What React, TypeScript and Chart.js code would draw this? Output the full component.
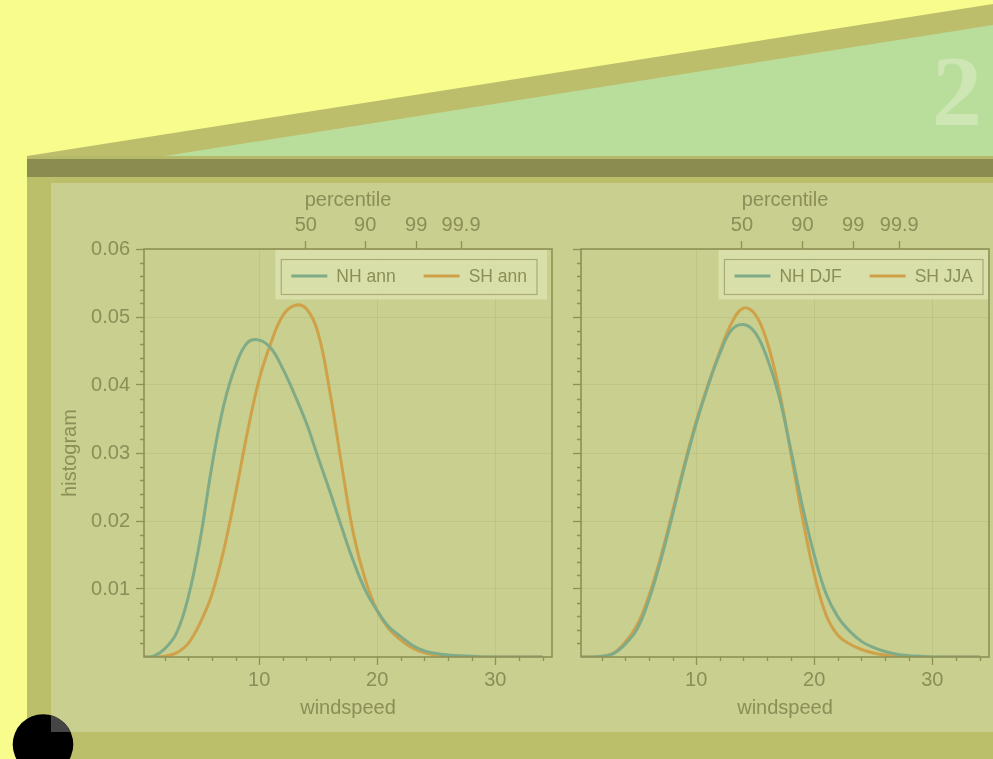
import React, { useEffect, useRef } from 'react';
import { Chart, registerables } from 'chart.js';

Chart.register(...registerables);

// ---------------- data ----------------
const windspeed = [0, 1, 2, 3, 4, 5, 6, 7, 8, 9, 10, 11, 12, 13, 14, 15, 16, 17, 18, 19, 20, 21, 22, 23, 24, 25, 26, 27, 28, 29, 30, 31, 32, 33, 34];

const nhAnn = [0, 0.0001, 0.0012, 0.0035, 0.0088, 0.0172, 0.0281, 0.0370, 0.0428, 0.0462, 0.0466, 0.0454, 0.0424, 0.0386, 0.0344, 0.0293, 0.0243, 0.0190, 0.0140, 0.0098, 0.0068, 0.0044, 0.0030, 0.0017, 0.0009, 0.0005, 0.0003, 0.0002, 0.0001, 0, 0, 0, 0, 0, 0];
const shAnn = [0, 0, 0.0001, 0.0006, 0.0020, 0.0050, 0.0092, 0.0157, 0.0240, 0.0330, 0.0408, 0.0462, 0.0502, 0.0517, 0.0512, 0.0476, 0.0389, 0.0281, 0.0180, 0.0113, 0.0068, 0.0041, 0.0025, 0.0013, 0.0006, 0.0003, 0.0001, 0, 0, 0, 0, 0, 0, 0, 0];
const nhDjf = [0, 0, 0.0001, 0.0005, 0.0019, 0.0041, 0.0084, 0.0142, 0.0209, 0.0279, 0.0343, 0.0398, 0.0446, 0.0481, 0.0489, 0.0477, 0.0440, 0.0385, 0.0306, 0.0222, 0.0150, 0.0093, 0.0059, 0.0038, 0.0023, 0.0014, 0.0008, 0.0004, 0.0002, 0.0001, 0, 0, 0, 0, 0];
const shJja = [0, 0, 0.0001, 0.0006, 0.0022, 0.0047, 0.0090, 0.0147, 0.0214, 0.0283, 0.0346, 0.0400, 0.0449, 0.0491, 0.0513, 0.0504, 0.0464, 0.0395, 0.0302, 0.0205, 0.0122, 0.0062, 0.0032, 0.0019, 0.0011, 0.0006, 0.0003, 0.0001, 0, 0, 0, 0, 0, 0, 0];

const leftLabels = ['NH ann', 'SH ann'];
const rightLabels = ['NH DJF', 'SH JJA'];

const xTicks = [10, 20, 30];
const xTickLabels = ['10', '20', '30'];
const xMinorTicks = [2, 4, 6, 8, 12, 14, 16, 18, 22, 24, 26, 28, 32, 34];
const yTicks = [0.01, 0.02, 0.03, 0.04, 0.05, 0.06];
const yTickLabels = ['0.01', '0.02', '0.03', '0.04', '0.05', '0.06'];
const yMinorTicks = [0.002, 0.004, 0.006, 0.008, 0.012, 0.014, 0.016, 0.018, 0.022, 0.024, 0.026, 0.028, 0.032, 0.034, 0.036, 0.038, 0.042, 0.044, 0.046, 0.048, 0.052, 0.054, 0.056, 0.058];
const percentileLabels = ['50', '90', '99', '99.9'];
const percentileAnn = [13.95, 18.98, 23.3, 27.1];
const percentileSeason = [13.88, 19.0, 23.3, 27.2];

const X_MIN = 0.25;
const X_MAX = 34.8;
const Y_MIN = 0;
const Y_MAX = 0.06;

// ---------------- styles ----------------
const TEAL = '#7fab88';
const ORANGE = '#cfa24a';
const TEXT = '#8b8e57';
const AXIS = '#8e9156';
const GRID = 'rgba(150,155,95,0.18)';
const FONT = '"Liberation Sans", Arial, Helvetica, sans-serif';

const panelDecor = {
  id: 'panelDecor',
  afterDraw(chart: any, _args: any, opts: any) {
    const { ctx, chartArea: a } = chart;
    const xs = chart.scales.x;
    const ys = chart.scales.y;
    ctx.save();
    ctx.strokeStyle = AXIS;
    ctx.lineWidth = 1.3;
    ctx.beginPath();
    for (const v of xMinorTicks) {
      const px = Math.round(xs.getPixelForValue(v)) + 0.5;
      ctx.moveTo(px, a.bottom);
      ctx.lineTo(px, a.bottom + 4);
    }
    for (const v of yMinorTicks) {
      const py = Math.round(ys.getPixelForValue(v)) + 0.5;
      ctx.moveTo(a.left, py);
      ctx.lineTo(a.left - 4, py);
    }
    ctx.stroke();
    ctx.lineWidth = 1.6;
    ctx.strokeRect(a.left, a.top, a.right - a.left, a.bottom - a.top);

    // legend
    ctx.font = `17.5px ${FONT}`;
    const items = chart.data.datasets.map((d: any) => ({
      label: d.label,
      color: d.borderColor,
      w: ctx.measureText(d.label).width,
    }));
    const padL = 10, lineLen = 36, gap = 9, itemGap = 28, padR = 10;
    let frameW = padL + padR;
    items.forEach((it: any, i: number) => {
      frameW += lineLen + gap + it.w + (i > 0 ? itemGap : 0);
    });
    const frameR = a.right - opts.legendRight;
    const frameL = frameR - frameW;
    const frameT = a.top + 10.5;
    const frameH = 35;
    const bgL = frameL - 6;
    const bgR = Math.min(frameR + 10, a.right - 1);
    const bgT = a.top + 1;
    const bgB = frameT + frameH + 5;
    ctx.fillStyle = 'rgba(222,228,176,0.75)';
    ctx.fillRect(bgL, bgT, bgR - bgL, bgB - bgT);
    ctx.strokeStyle = '#a9ac74';
    ctx.lineWidth = 1.2;
    ctx.strokeRect(frameL, frameT, frameW, frameH);
    const cy = frameT + frameH / 2 - 1;
    let x = frameL + padL;
    ctx.textBaseline = 'middle';
    ctx.textAlign = 'left';
    items.forEach((it: any, i: number) => {
      if (i > 0) x += itemGap;
      ctx.strokeStyle = it.color;
      ctx.lineWidth = 3;
      ctx.beginPath();
      ctx.moveTo(x, cy);
      ctx.lineTo(x + lineLen, cy);
      ctx.stroke();
      x += lineLen + gap;
      ctx.fillStyle = TEXT;
      ctx.fillText(it.label, x, cy + 1);
      x += it.w;
    });
    ctx.restore();
  },
};

type PanelSpec = {
  labels: string[];
  series: number[][];
  colors: string[];
  pct: number[];
  showY: boolean;
  yWidth: number;
  padRight: number;
  legendRight: number;
};

function makeConfig(spec: PanelSpec): any {
  const tickFont = { family: FONT, size: 20 };
  return {
    type: 'line',
    data: {
      datasets: spec.series.map((s, k) => ({
        label: spec.labels[k],
        data: windspeed.map((x, i) => ({ x, y: s[i] })),
        borderColor: spec.colors[k],
        backgroundColor: spec.colors[k],
        borderWidth: 3,
        pointRadius: 0,
        tension: 0.4,
        fill: false,
        xAxisID: 'x',
        yAxisID: 'y',
      })),
    },
    options: {
      responsive: false,
      maintainAspectRatio: false,
      animation: false,
      events: [],
      layout: { padding: { left: 0, right: spec.padRight, top: 0, bottom: 0 } },
      plugins: {
        legend: { display: false },
        tooltip: { enabled: false },
        panelDecor: { legendRight: spec.legendRight },
      },
      scales: {
        x: {
          type: 'linear',
          position: 'bottom',
          min: X_MIN,
          max: X_MAX,
          afterBuildTicks: (s: any) => { s.ticks = xTicks.map((v) => ({ value: v })); },
          afterFit: (s: any) => { s.height = 75; },
          ticks: {
            callback: (_v: any, i: number) => xTickLabels[i],
            color: TEXT, font: tickFont, padding: 3, autoSkip: false, maxRotation: 0,
          },
          grid: { color: GRID, lineWidth: 1, drawTicks: true, tickLength: 8, tickColor: AXIS, tickWidth: 1.3 },
          border: { display: false },
          title: { display: true, text: 'windspeed', color: TEXT, font: tickFont, padding: { top: 0, bottom: 12 } },
        },
        xTop: {
          type: 'linear',
          position: 'top',
          min: X_MIN,
          max: X_MAX,
          afterBuildTicks: (s: any) => { s.ticks = spec.pct.map((v) => ({ value: v })); },
          afterFit: (s: any) => { s.height = 66; },
          ticks: {
            callback: (_v: any, i: number) => percentileLabels[i],
            color: TEXT, font: tickFont, padding: 4, autoSkip: false, maxRotation: 0,
          },
          grid: { drawOnChartArea: false, drawTicks: true, tickLength: 8, tickColor: AXIS, tickWidth: 1.3 },
          border: { display: false },
          title: { display: true, text: 'percentile', color: TEXT, font: tickFont, padding: { top: 5, bottom: 0 } },
        },
        y: {
          type: 'linear',
          position: 'left',
          min: Y_MIN,
          max: Y_MAX,
          afterBuildTicks: (s: any) => { s.ticks = yTicks.map((v) => ({ value: v })); },
          afterFit: (s: any) => { s.width = spec.yWidth; },
          ticks: {
            display: spec.showY,
            callback: (_v: any, i: number) => yTickLabels[i],
            color: TEXT, font: tickFont, padding: 6, autoSkip: false,
          },
          grid: { color: GRID, lineWidth: 1, drawTicks: true, tickLength: 8, tickColor: AXIS, tickWidth: 1.3 },
          border: { display: false },
          title: { display: spec.showY, text: 'histogram', color: TEXT, font: tickFont, padding: { top: 7, bottom: 0 } },
        },
      },
    },
    plugins: [panelDecor],
  };
}

function Panel(props: { spec: PanelSpec; left: number; top: number; width: number; height: number }) {
  const ref = useRef<HTMLCanvasElement | null>(null);
  useEffect(() => {
    if (!ref.current) return;
    const chart = new Chart(ref.current, makeConfig(props.spec));
    return () => chart.destroy();
  }, []);
  return (
    <canvas
      ref={ref}
      width={props.width}
      height={props.height}
      style={{ position: 'absolute', left: props.left, top: props.top, width: props.width, height: props.height }}
    />
  );
}

const leftSpec: PanelSpec = {
  labels: leftLabels,
  series: [nhAnn, shAnn],
  colors: [TEAL, ORANGE],
  pct: percentileAnn,
  showY: true,
  yWidth: 93,
  padRight: 14,
  legendRight: 15,
};

const rightSpec: PanelSpec = {
  labels: rightLabels,
  series: [nhDjf, shJja],
  colors: [TEAL, ORANGE],
  pct: percentileSeason,
  showY: false,
  yWidth: 15,
  padRight: 4,
  legendRight: 6,
};

export default function App() {
  return (
    <div style={{ position: 'fixed', left: 0, top: 0, width: 993, height: 759, overflow: 'hidden', background: '#f8fc8c' }}>
      <svg width={993} height={759} style={{ position: 'absolute', left: 0, top: 0 }}>
        <polygon points="27,156 993,4 993,160 27,160" fill="#bcbe6c" />
        <polygon points="165,156 993,25 993,156" fill="#b9de9b" />
        <text x={932} y={124} fontFamily='"Liberation Serif", "DejaVu Serif", serif' fontWeight="bold" fontSize={100} fill="#cde6b4">2</text>
        <rect x={27} y={156} width={966} height={603} fill="#bbbf6a" />
        <rect x={27} y={156} width={966} height={3} fill="#b6b86a" />
        <rect x={27} y={159} width={966} height={18} fill="#8a8c50" />
        <rect x={51} y={183} width={942} height={549} fill="#c9cf8e" />
      </svg>
      <Panel spec={leftSpec} left={51} top={183} width={515} height={549} />
      <Panel spec={rightSpec} left={566} top={183} width={427} height={549} />
      <svg width={993} height={759} style={{ position: 'absolute', left: 0, top: 0, pointerEvents: 'none' }}>
        <defs>
          <clipPath id="panelClip">
            <rect x={51} y={183} width={942} height={549} />
          </clipPath>
        </defs>
        <circle cx={43} cy={744.5} r={30.3} fill="#000000" />
        <circle cx={43} cy={744.5} r={30.3} fill="#454545" clipPath="url(#panelClip)" />
      </svg>
    </div>
  );
}
